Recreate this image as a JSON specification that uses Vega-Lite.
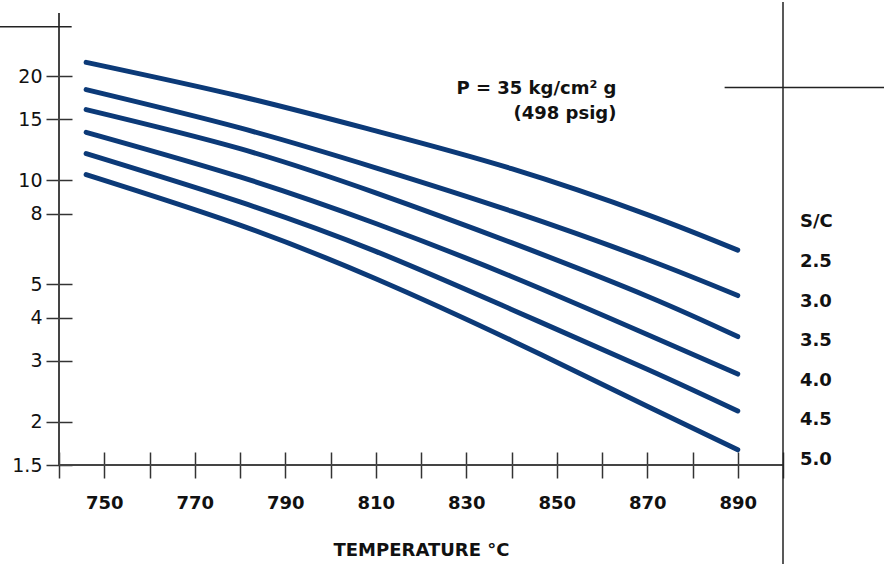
{
  "$schema": "https://vega.github.io/schema/vega-lite/v6.json",
  "width": 724,
  "height": 452,
  "autosize": {"type": "none"},
  "padding": {"left": 59, "top": 13, "right": 101, "bottom": 99},
  "config": {"view": {"stroke": null}, "font": "DejaVu Sans", "background": "white"},
  "datasets": {
    "curves": [
      {"sc": "2.5", "temp": 746, "value": 21.95},
      {"sc": "2.5", "temp": 780, "value": 17.51},
      {"sc": "2.5", "temp": 810, "value": 13.9},
      {"sc": "2.5", "temp": 840, "value": 10.81},
      {"sc": "2.5", "temp": 870, "value": 7.96},
      {"sc": "2.5", "temp": 890, "value": 6.28},
      {"sc": "3.0", "temp": 746, "value": 18.3},
      {"sc": "3.0", "temp": 780, "value": 14.18},
      {"sc": "3.0", "temp": 810, "value": 10.87},
      {"sc": "3.0", "temp": 840, "value": 8.14},
      {"sc": "3.0", "temp": 870, "value": 5.9},
      {"sc": "3.0", "temp": 890, "value": 4.64},
      {"sc": "3.5", "temp": 746, "value": 16.02},
      {"sc": "3.5", "temp": 780, "value": 12.35},
      {"sc": "3.5", "temp": 810, "value": 9.2},
      {"sc": "3.5", "temp": 840, "value": 6.6},
      {"sc": "3.5", "temp": 870, "value": 4.62},
      {"sc": "3.5", "temp": 890, "value": 3.53},
      {"sc": "4.0", "temp": 746, "value": 13.77},
      {"sc": "4.0", "temp": 780, "value": 10.23},
      {"sc": "4.0", "temp": 810, "value": 7.5},
      {"sc": "4.0", "temp": 840, "value": 5.27},
      {"sc": "4.0", "temp": 870, "value": 3.58},
      {"sc": "4.0", "temp": 890, "value": 2.75},
      {"sc": "4.5", "temp": 746, "value": 11.95},
      {"sc": "4.5", "temp": 780, "value": 8.66},
      {"sc": "4.5", "temp": 810, "value": 6.23},
      {"sc": "4.5", "temp": 840, "value": 4.23},
      {"sc": "4.5", "temp": 870, "value": 2.84},
      {"sc": "4.5", "temp": 890, "value": 2.15},
      {"sc": "5.0", "temp": 746, "value": 10.39},
      {"sc": "5.0", "temp": 780, "value": 7.42},
      {"sc": "5.0", "temp": 810, "value": 5.19},
      {"sc": "5.0", "temp": 840, "value": 3.44},
      {"sc": "5.0", "temp": 870, "value": 2.22},
      {"sc": "5.0", "temp": 890, "value": 1.66}
    ]
  },
  "layer": [
    {
      "data": {"name": "curves"},
      "mark": {"type": "line", "interpolate": "natural", "strokeWidth": 5, "strokeCap": "round", "strokeJoin": "round", "clip": false},
      "encoding": {
        "x": {
          "field": "temp", "type": "quantitative",
          "scale": {"domain": [740, 900], "nice": false, "zero": false},
          "axis": {
            "values": [740, 750, 760, 770, 780, 790, 800, 810, 820, 830, 840, 850, 860, 870, 880, 890, 900],
            "labelExpr": "(datum.value % 20 == 10 && datum.value >= 750 && datum.value <= 890) ? datum.label : ''",
            "format": "d",
            "offset": -13, "tickSize": 26, "domain": false, "grid": false,
            "tickColor": "#333", "tickWidth": 1.5,
            "labelFontSize": 18, "labelFontWeight": "bold", "labelColor": "#111", "labelPadding": 16,
            "labelFont": "DejaVu Sans",
            "title": "TEMPERATURE °C", "titleFont": "DejaVu Sans", "titleFontSize": 18, "titleFontWeight": "bold", "titleColor": "#111", "titlePadding": 29
          }
        },
        "y": {
          "field": "value", "type": "quantitative",
          "scale": {"type": "log", "domain": [1.5, 30.5], "nice": false},
          "axis": {
            "values": [1.5, 2, 3, 4, 5, 8, 10, 15, 20],
            "format": "~g",
            "offset": -13, "tickSize": 26, "domain": false, "grid": false,
            "tickColor": "#333", "tickWidth": 1.5,
            "labelFontSize": 19, "labelColor": "#111", "labelPadding": 4, "labelFont": "DejaVu Sans",
            "title": null
          }
        },
        "color": {
          "field": "sc", "type": "nominal",
          "scale": {"range": ["#0c3a78"]},
          "legend": {
            "title": "S/C", "orient": "none", "legendX": 741, "legendY": 200,
            "titleFont": "DejaVu Sans", "titleFontSize": 18, "titleFontWeight": "bold", "titleColor": "#111", "titlePadding": 22,
            "labelFont": "DejaVu Sans", "labelFontSize": 18, "labelFontWeight": "bold", "labelColor": "#111",
            "symbolSize": 0, "symbolStrokeWidth": 0, "symbolOpacity": 0, "labelOffset": -18, "rowPadding": 21.6
          }
        }
      }
    },
    {
      "data": {"values": [{}]},
      "mark": {"type": "rule", "color": "#444", "strokeWidth": 2},
      "encoding": {"x": {"datum": 740}, "y": {"datum": 1.5}, "y2": {"datum": 30.5}}
    },
    {
      "data": {"values": [{}]},
      "mark": {"type": "rule", "color": "#444", "strokeWidth": 2},
      "encoding": {"x": {"datum": 740}, "x2": {"datum": 900}, "y": {"datum": 1.5}}
    },
    {
      "data": {"values": [{}]},
      "mark": {"type": "rule", "color": "#222", "strokeWidth": 1.5, "clip": false},
      "encoding": {"x": {"datum": 900}, "y": {"datum": 32.8}, "y2": {"datum": 0.75}}
    },
    {
      "data": {"values": [{}]},
      "mark": {"type": "rule", "color": "#222", "strokeWidth": 1.5, "clip": false},
      "encoding": {"x": {"datum": 887.1}, "x2": {"datum": 925}, "y": {"datum": 18.55}}
    },
    {
      "data": {"values": [{}]},
      "mark": {"type": "rule", "color": "#222", "strokeWidth": 1.5, "clip": false},
      "encoding": {"x": {"datum": 725}, "x2": {"datum": 742.8}, "y": {"datum": 27.85}}
    },
    {
      "data": {"values": [{}]},
      "mark": {"type": "text", "align": "right", "baseline": "top", "fontSize": 18, "fontWeight": "bold", "font": "DejaVu Sans", "color": "#111", "lineHeight": 25},
      "encoding": {"x": {"datum": 863.2}, "y": {"datum": 19.5}, "text": {"value": ["P = 35 kg/cm² g", "(498 psig)"]}}
    }
  ]
}
